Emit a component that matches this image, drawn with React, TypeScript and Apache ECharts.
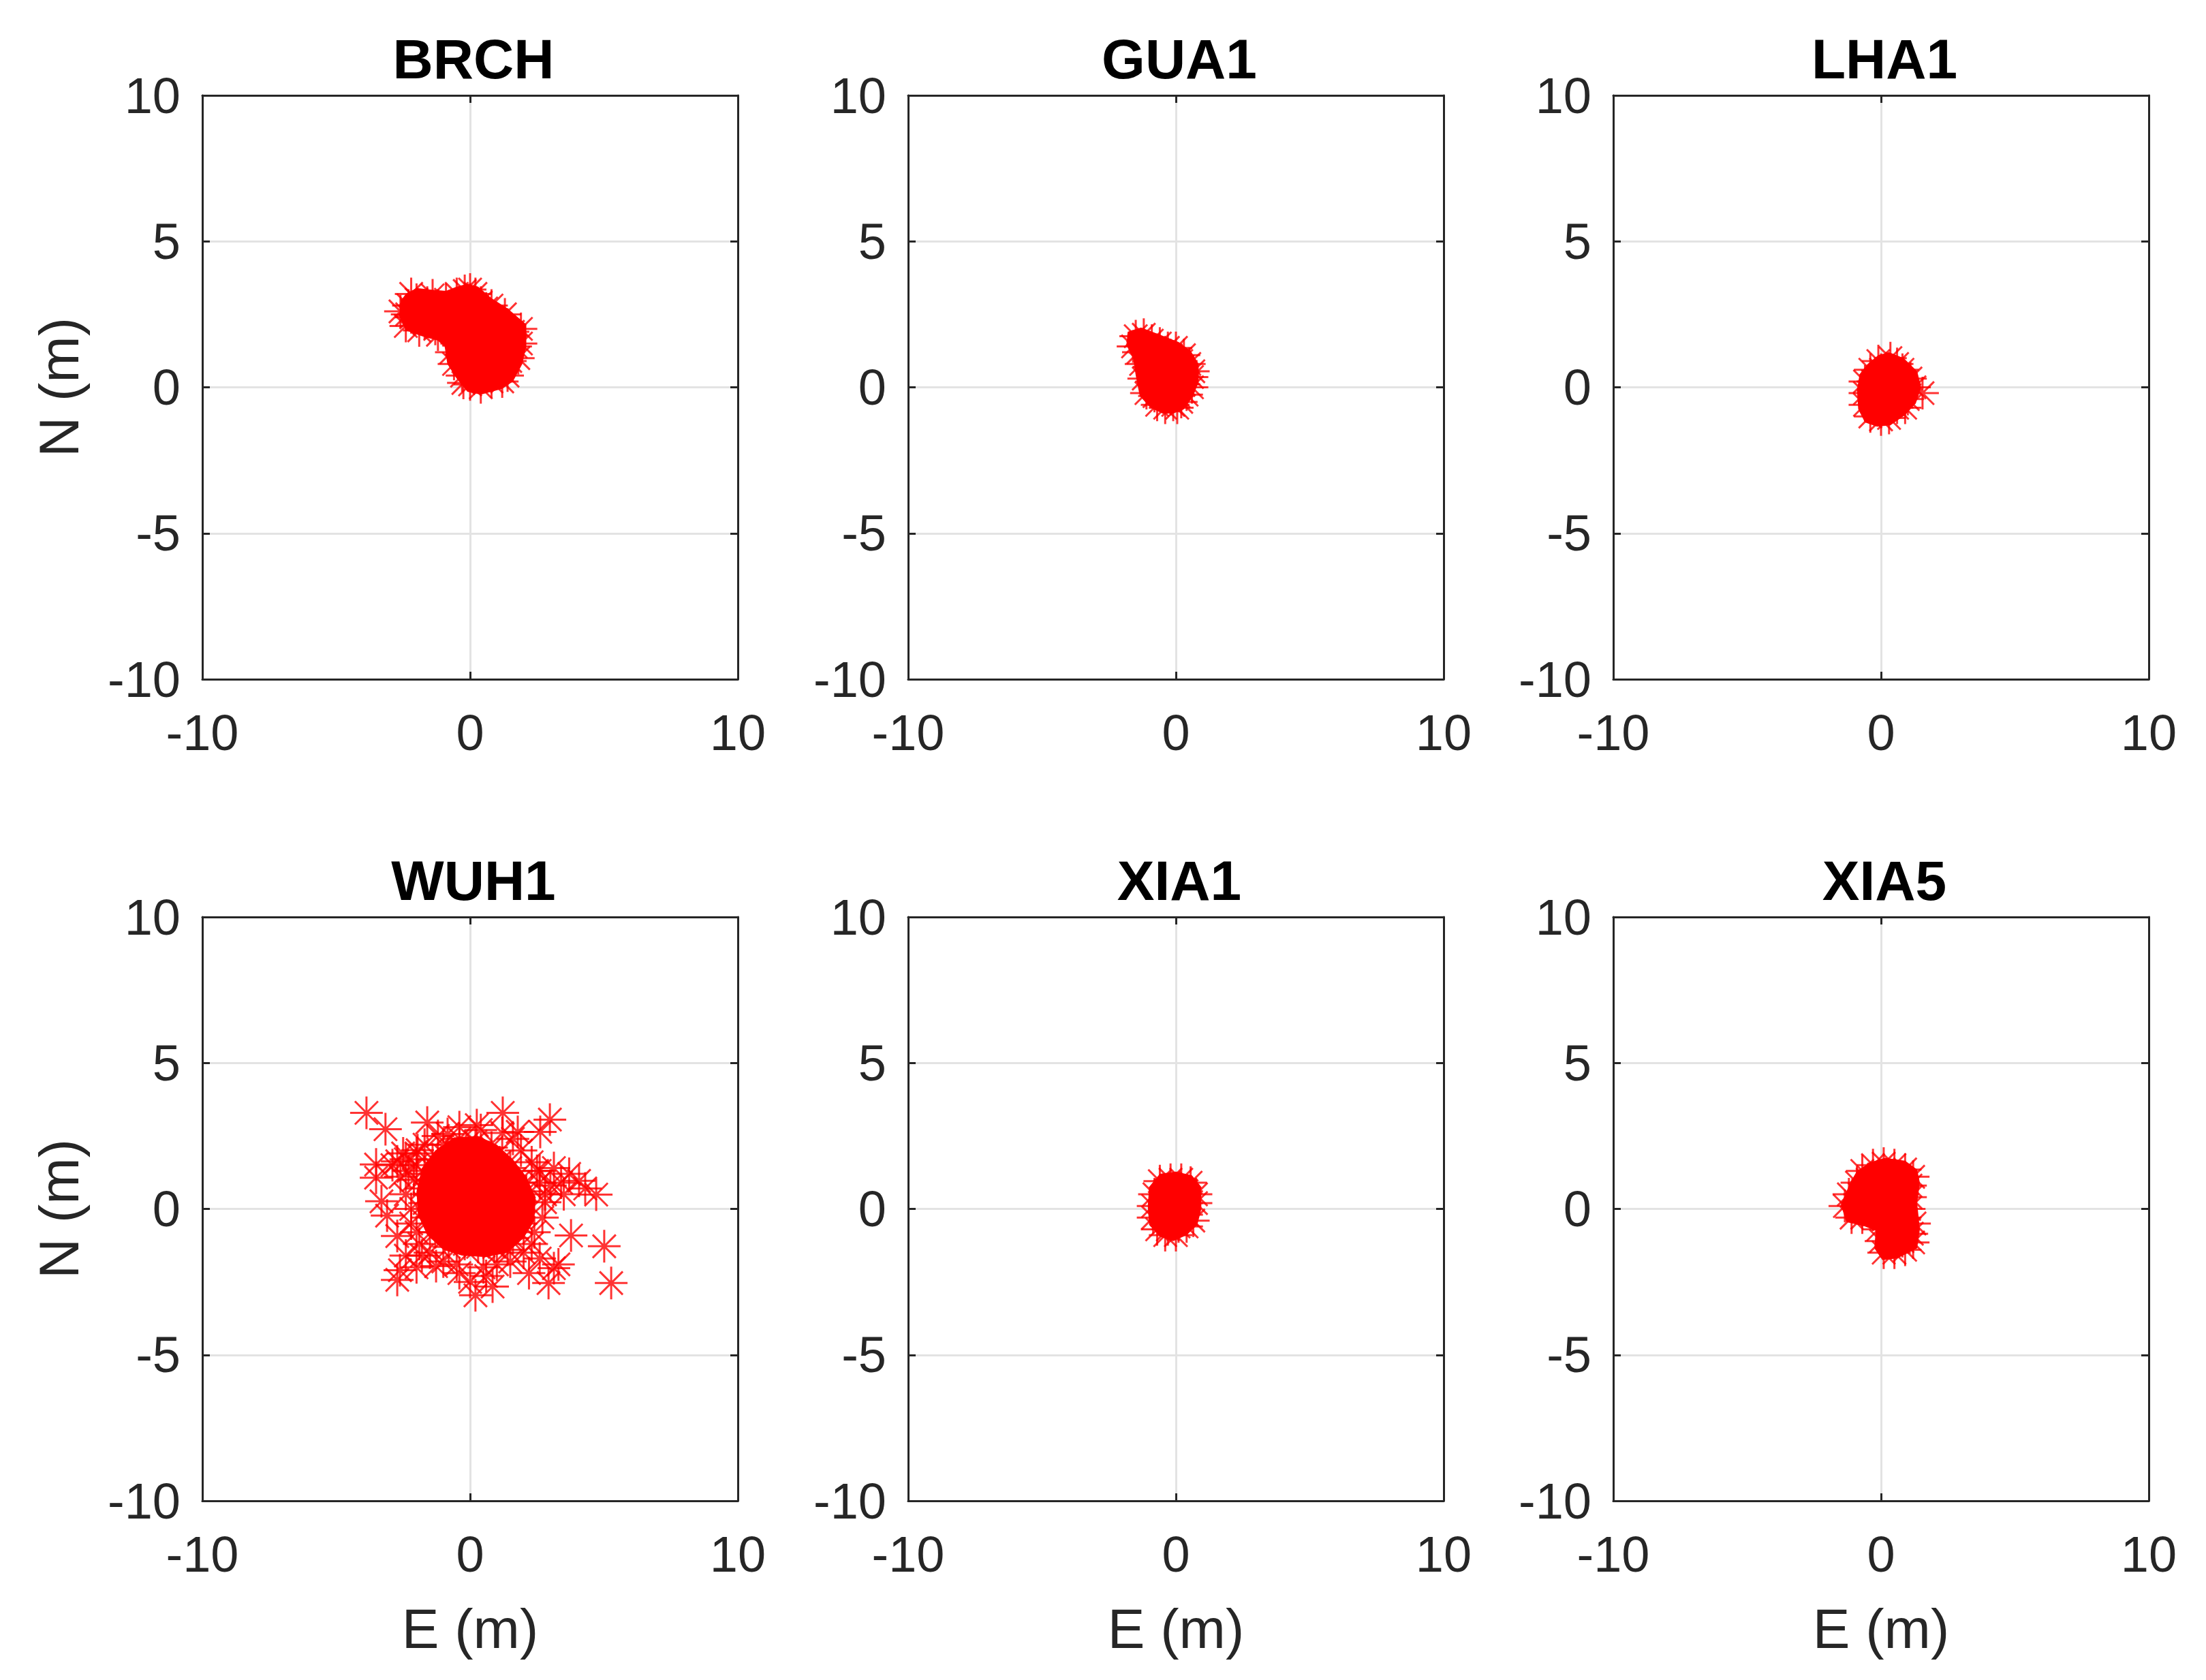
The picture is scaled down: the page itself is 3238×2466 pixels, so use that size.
import React, { useEffect, useRef } from "react";
import * as echarts from "echarts";

const STATIONS = ["BRCH", "GUA1", "LHA1", "WUH1", "XIA1", "XIA5"];
const AXIS_MIN = -10;
const AXIS_MAX = 10;
const X_INTERVAL = 10;
const Y_INTERVAL = 5;
const X_NAME = "E (m)";
const Y_NAME = "N (m)";

// Individual position fixes (E, N in metres)
const BRCH: number[][] = [
  [-2.3, 2.8], [-2.35, 2.5], [-2.2, 2.4], [-2.0, 3.0], [-1.9, 2.6], [-1.7, 2.2], [-1.6, 2.9], [-1.5, 2.5],
  [-2.4, 2.1], [-1.9, 1.95], [-2.2, 3.2], [-1.4, 3.15], [-2.6, 2.6], [-1.2, 1.8],
  [-1.3, 2.0], [-1.2, 2.8], [-1.1, 2.4], [-0.9, 3.0], [-0.8, 2.1], [-0.7, 2.6],
  [-0.5, 3.2], [-0.3, 2.8], [-0.2, 3.3], [0.0, 3.0], [0.0, 3.35], [0.2, 3.2], [0.4, 2.9], [0.6, 2.7], [0.8, 2.8], [1.3, 2.5],
  [-0.6, 1.8], [-0.4, 2.3], [-0.1, 2.5], [0.3, 2.4], [0.7, 2.2], [1.0, 2.3], [1.3, 2.0], [1.6, 1.9], [1.9, 2.0],
  [-0.7, 1.2], [-0.5, 1.5], [-0.2, 1.9], [0.1, 2.0], [0.5, 1.8], [0.9, 1.7], [1.3, 1.5], [1.7, 1.4], [1.9, 1.5],
  [-0.6, 0.8], [-0.3, 1.1], [0.0, 1.4], [0.3, 1.3], [0.7, 1.2], [1.1, 1.0], [1.5, 0.9], [1.8, 1.0],
  [-0.3, 0.4], [0.0, 0.7], [0.3, 0.6], [0.6, 0.8], [1.0, 0.5], [1.4, 0.4],
  [0.0, 0.1], [-0.25, 0.15], [0.4, 0.0], [0.8, 0.2], [1.2, 0.2],
];

const GUA1: number[][] = [
  [-1.5, 1.75], [-1.2, 1.8], [-0.9, 1.6], [-0.6, 1.5], [-0.3, 1.35], [0.0, 1.35], [0.3, 1.1],
  [-1.6, 1.4], [-1.4, 1.2], [-1.1, 1.3], [-0.8, 1.1], [-0.5, 1.0], [-0.2, 1.1], [0.2, 0.9], [0.5, 0.8], [0.65, 0.55],
  [-1.3, 0.8], [-1.0, 0.7], [-0.7, 0.6], [-0.4, 0.7], [-0.1, 0.5], [0.3, 0.5], [0.6, 0.35],
  [-1.2, 0.3], [-0.9, 0.2], [-0.6, 0.1], [-0.3, 0.3], [0.0, 0.0], [0.3, 0.1], [0.6, 0.0],
  [-1.1, -0.2], [-0.8, -0.3], [-0.5, -0.2], [-0.2, -0.4], [0.1, -0.3], [0.4, -0.25],
  [-0.7, -0.6], [-0.4, -0.7], [-0.1, -0.6], [0.05, -0.7], [0.2, -0.5],
];

const LHA1: number[][] = [
  [-0.1, 0.9], [0.35, 1.0], [0.6, 0.8], [-0.4, 0.6], [0.0, 0.6], [0.4, 0.5], [0.8, 0.6], [1.1, 0.3],
  [-0.6, 0.2], [-0.3, 0.2], [0.1, 0.2], [0.5, 0.1], [0.9, 0.1], [1.25, 0.0], [1.55, -0.2],
  [-0.6, -0.2], [-0.2, -0.2], [0.2, -0.3], [0.6, -0.3], [1.0, -0.4],
  [-0.6, -0.6], [-0.2, -0.7], [0.2, -0.7], [0.6, -0.7], [0.9, -0.7],
  [-0.4, -1.0], [0.0, -1.1], [0.3, -1.05],
];

const WUH1: number[][] = [
  [-3.87, 3.29], [-3.16, 2.73], [-1.6, 2.96], [1.22, 3.29], [2.98, 3.06], [1.78, 2.64], [2.62, 2.64],
  [-3.51, 1.52], [-3.51, 1.07], [-3.31, 0.26], [-3.1, -0.23], [-2.72, -0.93], [-2.62, -2.1],
  [-2.72, -2.43], [-1.27, -1.96], [0.2, -2.96], [0.84, -2.66], [2.93, -2.54], [3.13, -2.03],
  [3.77, -0.91], [5.01, -1.28], [5.27, -2.54], [4.71, 0.49], [4.07, 0.96], [3.13, 1.4],
  [2.8, 0.23], [-2.72, 1.63], [-1.96, 2.01], [-0.84, 2.57], [0.25, 2.87],
  [3.4, 0.9], [3.7, 1.2], [3.0, 0.8], [2.6, 1.3], [4.3, 0.7], [3.5, 0.5],
  [-2.9, 1.5], [-2.5, 1.9], [-2.0, 1.5], [-2.6, 1.1],
  [-2.4, -1.6], [-1.8, -1.6], [-2.0, -2.0],
  [2.6, -1.7], [3.3, -1.9], [2.2, -2.2],
  [0.0, -2.5], [0.6, -2.3], [-0.4, -2.2],
  [-2.1, 1.0], [-2.2, 0.0], [-2.0, -0.8], [-1.5, -1.5], [-0.5, -1.9], [0.5, -2.0], [1.5, -1.8],
  [2.3, -1.2], [2.7, -0.3], [2.8, 0.5], [2.5, 1.3], [1.9, 2.0], [1.2, 2.6], [0.4, 2.7],
  [-0.4, 2.8], [-1.2, 2.5], [-1.7, 2.2], [-2.4, 1.7],
  [-1.0, 2.2], [-0.4, 2.4], [0.2, 2.3], [0.8, 2.1],
  [-1.4, 1.7], [-0.9, 1.8], [-0.4, 1.9], [0.1, 1.8], [0.6, 1.7], [1.1, 1.6], [1.5, 1.4],
  [-1.7, 1.2], [-1.2, 1.3], [-0.7, 1.3], [-0.2, 1.3], [0.3, 1.2], [0.8, 1.2], [1.3, 1.1], [1.8, 0.9],
  [-1.8, 0.7], [-1.3, 0.8], [-0.8, 0.7], [-0.3, 0.8], [0.2, 0.7], [0.7, 0.7], [1.2, 0.6], [1.7, 0.5], [2.1, 0.6],
  [-1.7, 0.2], [-1.2, 0.2], [-0.7, 0.3], [-0.2, 0.2], [0.3, 0.2], [0.8, 0.1], [1.3, 0.2], [1.8, 0.0],
  [-1.6, -0.3], [-1.1, -0.3], [-0.6, -0.2], [-0.1, -0.3], [0.4, -0.3], [0.9, -0.4], [1.4, -0.3], [1.9, -0.5],
  [-1.3, -0.8], [-0.8, -0.8], [-0.3, -0.7], [0.2, -0.8], [0.7, -0.9], [1.2, -0.8], [1.6, -1.0],
  [-0.8, -1.3], [-0.2, -1.2], [0.3, -1.3], [0.9, -1.3], [1.4, -1.4],
  [-2.3, 1.3], [-2.4, 0.5], [-2.2, -0.5], [-1.9, -1.2], [-1.0, -1.8], [1.0, -1.9], [2.0, -1.5],
  [2.4, -0.8], [2.6, 0.9], [2.3, 1.6], [-2.0, 1.9], [1.6, 2.4],
];

const XIA1: number[][] = [
  [-0.6, 0.95], [-0.2, 1.0], [0.2, 1.0], [0.55, 0.9],
  [-0.8, 0.5], [-0.4, 0.6], [0.0, 0.6], [0.4, 0.6], [0.75, 0.5],
  [-0.85, 0.1], [-0.4, 0.2], [0.0, 0.2], [0.4, 0.2], [0.75, 0.2],
  [-0.85, -0.3], [-0.4, -0.2], [0.0, -0.2], [0.4, -0.2], [0.65, -0.4],
  [-0.7, -0.7], [-0.3, -0.7], [0.1, -0.6], [0.4, -0.6],
  [-0.4, -0.9], [0.0, -0.9],
];

const XIA5: number[][] = [
  [-0.7, 1.3], [-0.3, 1.5], [0.1, 1.55], [0.5, 1.5], [0.9, 1.35], [1.2, 1.1],
  [-0.9, 0.9], [-0.5, 1.0], [-0.1, 1.1], [0.3, 1.1], [0.7, 1.0], [1.1, 0.8],
  [-1.2, 0.5], [-0.8, 0.5], [-0.4, 0.6], [0.0, 0.6], [0.4, 0.6], [0.8, 0.5], [1.1, 0.4],
  [-1.35, 0.1], [-0.9, 0.1], [-0.5, 0.2], [-0.1, 0.2], [0.3, 0.1], [0.7, 0.1], [1.05, 0.0],
  [-1.1, -0.3], [-0.7, -0.3], [-0.3, -0.2], [0.1, -0.3], [0.5, -0.3], [0.9, -0.3], [1.25, -0.5],
  [-0.1, -0.7], [0.3, -0.7], [0.7, -0.7], [1.15, -0.85],
  [0.0, -1.1], [0.4, -1.1], [0.8, -1.1], [1.2, -1.15],
  [0.1, -1.5], [0.5, -1.5], [0.9, -1.4],
];

// Outlines of the solid, fully overplotted cores (E, N in metres)
const BRCH_CORE: number[][] = [
  [-2.6, 2.95], [-2.4, 3.2], [-2.0, 3.4], [-1.5, 3.35], [-0.9, 3.3], [-0.5, 3.45], [-0.1, 3.55], [0.3, 3.45],
  [0.8, 3.05], [1.4, 2.7], [2.1, 2.15], [2.1, 1.4], [1.95, 0.8], [1.6, 0.2], [1.2, -0.05],
  [0.4, -0.25], [-0.1, -0.15], [-0.5, 0.3], [-0.85, 0.8], [-0.95, 1.4], [-1.2, 1.6],
  [-1.8, 1.75], [-2.4, 1.95], [-2.65, 2.45],
];
const GUA1_CORE: number[][] = [
  [-1.8, 1.9], [-1.3, 2.05], [-0.6, 1.8], [0.1, 1.55], [0.55, 1.25], [0.85, 0.8], [0.85, 0.2],
  [0.65, -0.3], [0.3, -0.75], [-0.1, -0.9], [-0.5, -0.9], [-0.95, -0.7], [-1.35, -0.3],
  [-1.5, 0.4], [-1.6, 1.0], [-1.85, 1.45],
];
const LHA1_CORE: number[][] = [
  [0.3, 1.2], [0.85, 1.0], [1.35, 0.55], [1.5, 0.0], [1.3, -0.55], [0.9, -0.95], [0.35, -1.3],
  [-0.15, -1.35], [-0.6, -1.2], [-0.85, -0.75], [-0.9, -0.1], [-0.8, 0.45], [-0.5, 0.8], [-0.1, 1.1],
];
const WUH1_CORE: number[][] = [
  [-1.3, 2.0], [-0.6, 2.45], [0.3, 2.5], [1.0, 2.2], [1.6, 1.7], [2.1, 1.1], [2.45, 0.4],
  [2.4, -0.4], [2.0, -1.0], [1.4, -1.5], [0.6, -1.65], [-0.3, -1.6], [-1.0, -1.4],
  [-1.6, -0.9], [-1.95, -0.2], [-2.0, 0.6], [-1.8, 1.4],
];
const XIA1_CORE: number[][] = [
  [-0.6, 1.2], [0.0, 1.28], [0.6, 1.15], [0.95, 0.75], [0.95, 0.0], [0.8, -0.55], [0.4, -0.9],
  [-0.1, -1.1], [-0.6, -0.95], [-1.0, -0.55], [-1.05, 0.1], [-1.0, 0.75],
];
const XIA5_CORE: number[][] = [
  [0.15, 1.75], [0.9, 1.65], [1.35, 1.35], [1.45, 0.9], [1.35, 0.2], [1.45, -0.7], [1.35, -1.35],
  [0.6, -1.7], [0.05, -1.75], [-0.25, -1.35], [-0.2, -0.75], [-0.6, -0.6], [-1.3, -0.45],
  [-1.5, 0.15], [-1.15, 0.9], [-0.9, 1.3], [-0.4, 1.6],
];

const SERIES_DATA = [BRCH, GUA1, LHA1, WUH1, XIA1, XIA5];
const CORE_DATA = [BRCH_CORE, GUA1_CORE, LHA1_CORE, WUH1_CORE, XIA1_CORE, XIA5_CORE];

const ASTERISK =
  "path://M0 5L10 5M5 0L5 10M1.46 1.46L8.54 8.54M1.46 8.54L8.54 1.46";

const FONT = "'Liberation Sans', Arial, Helvetica, sans-serif";
const AXIS_COLOR = "#262626";
const MARK_COLOR = "#ff0000";

export default function App() {
  const ref = useRef<HTMLDivElement>(null);

  useEffect(() => {
    if (!ref.current) return;
    const chart = echarts.init(ref.current, undefined, { renderer: "svg" });

    const lefts = [297, 1333, 2368];
    const tops = [140, 1346];
    const W = 786;
    const H = 857;

    const grid: any[] = [];
    const xAxis: any[] = [];
    const yAxis: any[] = [];
    const series: any[] = [];
    const title: any[] = [];

    const tickStyle = { show: true, inside: true, length: 11, lineStyle: { color: AXIS_COLOR, width: 3 } };
    const lineStyle = { show: true, onZero: false, lineStyle: { color: AXIS_COLOR, width: 3 } };
    const split = { show: true, showMinLine: false, showMaxLine: false, lineStyle: { color: "#e3e3e3", width: 3 } };

    STATIONS.forEach((name, i) => {
      const col = i % 3;
      const row = Math.floor(i / 3);
      grid.push({ left: lefts[col], top: tops[row], width: W, height: H, containLabel: false });
      title.push({
        text: name,
        left: lefts[col] + W / 2,
        top: tops[row] - 100,
        textAlign: "center",
        textStyle: { fontSize: 82, fontWeight: "bold", color: "#000", fontFamily: FONT },
      });
      xAxis.push({
        type: "value", gridIndex: i, min: AXIS_MIN, max: AXIS_MAX, interval: X_INTERVAL,
        position: "bottom",
        axisLine: lineStyle,
        axisTick: tickStyle,
        axisLabel: { show: true, fontSize: 74, color: AXIS_COLOR, fontFamily: FONT, margin: 41 },
        splitLine: split,
        name: row === 1 ? X_NAME : "",
        nameLocation: "middle",
        nameGap: 146,
        nameTextStyle: { fontSize: 82, color: AXIS_COLOR, fontFamily: FONT },
      });
      xAxis.push({
        type: "value", gridIndex: i, min: AXIS_MIN, max: AXIS_MAX, interval: X_INTERVAL,
        position: "top",
        axisLine: lineStyle,
        axisTick: tickStyle,
        axisLabel: { show: false },
        splitLine: { show: false },
      });
      yAxis.push({
        type: "value", gridIndex: i, min: AXIS_MIN, max: AXIS_MAX, interval: Y_INTERVAL,
        position: "left",
        axisLine: lineStyle,
        axisTick: tickStyle,
        axisLabel: { show: true, fontSize: 74, color: AXIS_COLOR, fontFamily: FONT, margin: 32 },
        splitLine: split,
        name: col === 0 ? Y_NAME : "",
        nameLocation: "middle",
        nameRotate: 90,
        nameGap: 170,
        nameTextStyle: { fontSize: 82, color: AXIS_COLOR, fontFamily: FONT },
      });
      yAxis.push({
        type: "value", gridIndex: i, min: AXIS_MIN, max: AXIS_MAX, interval: Y_INTERVAL,
        position: "right",
        axisLine: lineStyle,
        axisTick: tickStyle,
        axisLabel: { show: false },
        splitLine: { show: false },
      });
      const core = CORE_DATA[i];
      series.push({
        type: "custom",
        name: name + " core",
        xAxisIndex: i * 2,
        yAxisIndex: i * 2,
        data: core,
        silent: true,
        z: 1,
        renderItem: (params: any, api: any) => {
          if (params.dataIndex !== 0) return null;
          const pts = core.map((p) => api.coord(p));
          return { type: "polygon", shape: { points: pts }, style: { fill: MARK_COLOR } };
        },
      });
      series.push({
        type: "scatter",
        name,
        xAxisIndex: i * 2,
        yAxisIndex: i * 2,
        data: SERIES_DATA[i],
        symbol: ASTERISK,
        symbolSize: 48,
        z: 2,
        itemStyle: { color: "transparent", borderColor: MARK_COLOR, borderWidth: 3 },
        emphasis: { disabled: true },
        silent: true,
      });
    });

    chart.setOption({
      animation: false,
      backgroundColor: "#ffffff",
      title,
      grid,
      xAxis,
      yAxis,
      series,
    });

    return () => chart.dispose();
  }, []);

  return (
    <div
      ref={ref}
      style={{ position: "fixed", left: 0, top: 0, width: 3238, height: 2466 }}
    />
  );
}
